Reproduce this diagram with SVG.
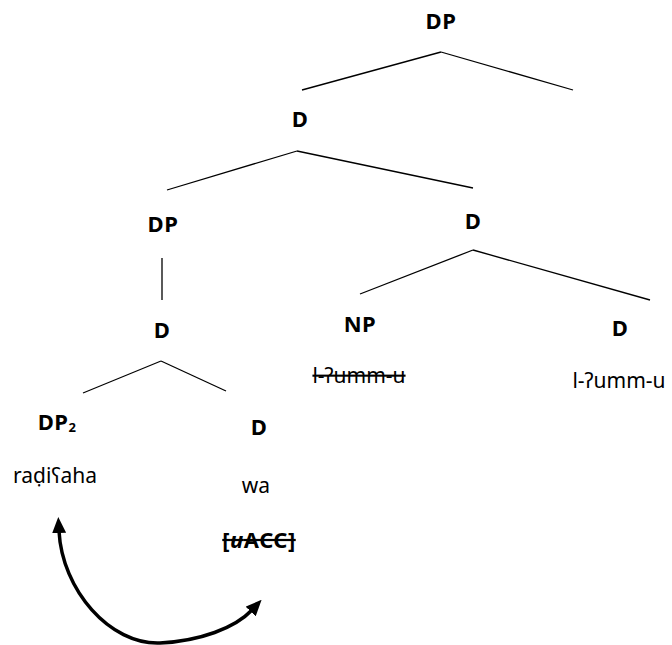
<svg xmlns="http://www.w3.org/2000/svg" width="672" height="645" viewBox="0 0 672 645">
<style>
  text { font-family: "Noto Sans", "Open Sans", "DejaVu Sans", sans-serif; fill: #000; text-anchor: middle; }
  .lab { font-size: 22px; font-weight: bold; letter-spacing: 0.5px; }
  .word { font-size: 21px; }
  .struck { text-decoration: line-through; }
  .edge { stroke: #000; stroke-width: 1.3; fill: none; }
  .mv { stroke: #000; stroke-width: 3.5; fill: none; }
</style>
<defs>
  <marker id="ah" viewBox="0 0 16 14" refX="2" refY="7" markerWidth="16" markerHeight="14" markerUnits="userSpaceOnUse" orient="auto-start-reverse">
    <path d="M0,0 L16,7 L0,14 z" fill="#000"/>
  </marker>
</defs>
<rect width="672" height="645" fill="#fff"/>
<g id="connectors">
  <line class="edge" x1="441" y1="52" x2="302" y2="90"/>
  <line class="edge" x1="441" y1="52" x2="573" y2="90"/>
  <line class="edge" x1="297" y1="151" x2="167" y2="190"/>
  <line class="edge" x1="297" y1="151" x2="473" y2="188"/>
  <line class="edge" x1="162" y1="258" x2="162" y2="300"/>
  <line class="edge" x1="473" y1="250" x2="360" y2="294"/>
  <line class="edge" x1="473" y1="250" x2="650" y2="300"/>
  <line class="edge" x1="161" y1="361" x2="83" y2="393"/>
  <line class="edge" x1="161" y1="361" x2="226" y2="391"/>
  <path id="movement" class="mv" d="M59,531 C62,590 110,645 160,643 C200,641 235,628 252,610" marker-start="url(#ah)" marker-end="url(#ah)"/>
</g>
<g id="n-dp-root"><text class="lab" x="441" y="29">DP</text></g>
<g id="n-d-bar1"><text class="lab" x="300" y="127">D</text></g>
<g id="n-dp-spec"><text class="lab" x="163" y="232">DP</text></g>
<g id="n-d-bar2"><text class="lab" x="473" y="229">D</text></g>
<g id="n-d-inner"><text class="lab" x="162" y="338">D</text></g>
<g id="n-np"><text class="lab" x="360" y="332">NP</text><text class="word struck" x="359" y="383">l-ʔumm-u</text></g>
<g id="n-d-head"><text class="lab" x="620" y="336">D</text><text class="word" x="619" y="388">l-ʔumm-u</text></g>
<g id="n-dp2"><text class="lab" x="57" y="430">DP<tspan font-size="13" dy="2">2</tspan></text><text class="word" x="55" y="483">raḍiʕaha</text></g>
<g id="n-d-wa"><text class="lab" x="259" y="435">D</text><text class="word" x="256" y="493">wa</text><text class="lab struck" x="259" y="548">[<tspan font-style="italic">u</tspan>ACC]</text></g>
</svg>
